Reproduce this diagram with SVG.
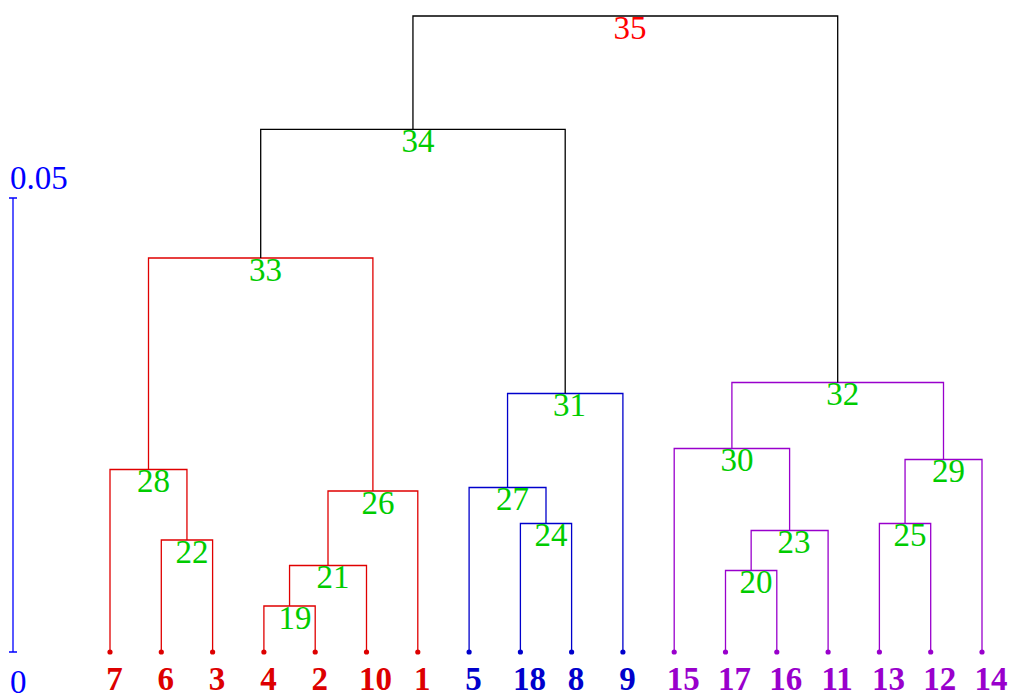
<svg xmlns="http://www.w3.org/2000/svg" width="1010" height="696" viewBox="0 0 1010 696">
<style>
text{font-family:"Liberation Serif","Times New Roman",serif;font-size:33px;text-anchor:middle}
.lf{font-weight:bold}
.g{fill:#00cc00}
.r{fill:#dd0000}
.b{fill:#0000cc}
.p{fill:#9900cc}
.ln{fill:none;stroke-width:1.3}
.lr{stroke:#e00000}
.lb{stroke:#0000cc}
.lp{stroke:#9900cc}
.lk{stroke:#000000}
.dr{fill:#dd0000}.db{fill:#0000cc}.dp{fill:#9900cc}
</style>
<g id="axis">
<path d="M13,198V652M9,198H17M9,652H17" fill="none" stroke="#0000ff" stroke-width="1.3"/>
<text x="10" y="189" style="text-anchor:start;fill:#0000ff">0.05</text>
<text x="10" y="693" style="text-anchor:start;fill:#0000ff">0</text>
</g>
<g id="connectors">
<path class="ln lr" d="M263.9,652V606H315.2V652"/>
<path class="ln lr" d="M289.55,606V565.5H366.5V652"/>
<path class="ln lr" d="M328,565.5V491H417.8V652"/>
<path class="ln lr" d="M161.3,652V540H212.6V652"/>
<path class="ln lr" d="M110,652V469.5H186.95V540"/>
<path class="ln lr" d="M148.5,469.5V258H372.9V491"/>
<path class="ln lb" d="M520.4,652V523.5H571.6V652"/>
<path class="ln lb" d="M469.1,652V487.5H546V523.5"/>
<path class="ln lb" d="M507.55,487.5V393.5H622.9V652"/>
<path class="ln lk" d="M260.7,258V129.3H565.2V393.5"/>
<path class="ln lp" d="M725.5,652V570.5H776.8V652"/>
<path class="ln lp" d="M751.15,570.5V530.5H828.1V652"/>
<path class="ln lp" d="M674.2,652V448.5H789.6V530.5"/>
<path class="ln lp" d="M879.4,652V523.5H930.7V652"/>
<path class="ln lp" d="M905.05,523.5V459.5H982V652"/>
<path class="ln lp" d="M731.9,448.5V382.5H943.5V459.5"/>
<path class="ln lk" d="M412.95,129.3V16H837.7V382.5"/>
</g>
<g id="leaf-7"><circle class="dr" cx="110" cy="652" r="2.6"/><text class="lf r" x="114.5" y="690">7</text></g>
<g id="leaf-6"><circle class="dr" cx="161.3" cy="652" r="2.6"/><text class="lf r" x="165.8" y="690">6</text></g>
<g id="leaf-3"><circle class="dr" cx="212.6" cy="652" r="2.6"/><text class="lf r" x="217.1" y="690">3</text></g>
<g id="leaf-4"><circle class="dr" cx="263.9" cy="652" r="2.6"/><text class="lf r" x="268.4" y="690">4</text></g>
<g id="leaf-2"><circle class="dr" cx="315.2" cy="652" r="2.6"/><text class="lf r" x="319.7" y="690">2</text></g>
<g id="leaf-10"><circle class="dr" cx="366.5" cy="652" r="2.6"/><text class="lf r" x="375.5" y="690">10</text></g>
<g id="leaf-1"><circle class="dr" cx="417.8" cy="652" r="2.6"/><text class="lf r" x="422.3" y="690">1</text></g>
<g id="leaf-5"><circle class="db" cx="469.1" cy="652" r="2.6"/><text class="lf b" x="473.6" y="690">5</text></g>
<g id="leaf-18"><circle class="db" cx="520.4" cy="652" r="2.6"/><text class="lf b" x="529.4" y="690">18</text></g>
<g id="leaf-8"><circle class="db" cx="571.6" cy="652" r="2.6"/><text class="lf b" x="576.1" y="690">8</text></g>
<g id="leaf-9"><circle class="db" cx="622.9" cy="652" r="2.6"/><text class="lf b" x="627.4" y="690">9</text></g>
<g id="leaf-15"><circle class="dp" cx="674.2" cy="652" r="2.6"/><text class="lf p" x="683.2" y="690">15</text></g>
<g id="leaf-17"><circle class="dp" cx="725.5" cy="652" r="2.6"/><text class="lf p" x="734.5" y="690">17</text></g>
<g id="leaf-16"><circle class="dp" cx="776.8" cy="652" r="2.6"/><text class="lf p" x="785.8" y="690">16</text></g>
<g id="leaf-11"><circle class="dp" cx="828.1" cy="652" r="2.6"/><text class="lf p" x="837.1" y="690">11</text></g>
<g id="leaf-13"><circle class="dp" cx="879.4" cy="652" r="2.6"/><text class="lf p" x="888.4" y="690">13</text></g>
<g id="leaf-12"><circle class="dp" cx="930.7" cy="652" r="2.6"/><text class="lf p" x="939.7" y="690">12</text></g>
<g id="leaf-14"><circle class="dp" cx="982" cy="652" r="2.6"/><text class="lf p" x="991" y="690">14</text></g>
<g id="node-19"><text class="g" x="295" y="628.5">19</text></g>
<g id="node-21"><text class="g" x="333" y="588">21</text></g>
<g id="node-26"><text class="g" x="378" y="513.5">26</text></g>
<g id="node-22"><text class="g" x="192" y="562.5">22</text></g>
<g id="node-28"><text class="g" x="153.5" y="492">28</text></g>
<g id="node-33"><text class="g" x="265.5" y="281">33</text></g>
<g id="node-24"><text class="g" x="551" y="546">24</text></g>
<g id="node-27"><text class="g" x="512.5" y="510">27</text></g>
<g id="node-31"><text class="g" x="569.5" y="416">31</text></g>
<g id="node-34"><text class="g" x="418" y="152">34</text></g>
<g id="node-20"><text class="g" x="756" y="593">20</text></g>
<g id="node-23"><text class="g" x="794" y="553">23</text></g>
<g id="node-30"><text class="g" x="737" y="471">30</text></g>
<g id="node-25"><text class="g" x="910" y="546">25</text></g>
<g id="node-29"><text class="g" x="948.5" y="482">29</text></g>
<g id="node-32"><text class="g" x="842.7" y="405">32</text></g>
<g id="node-35"><text x="630" y="39" style="fill:#ff0000">35</text></g>
</svg>
